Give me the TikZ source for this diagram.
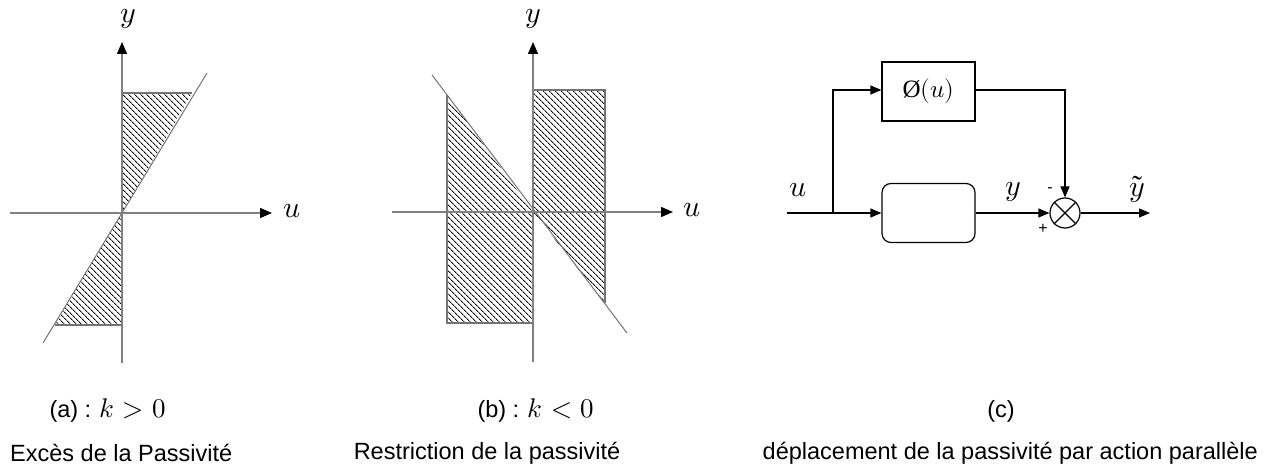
\documentclass[tikz,border=0pt]{standalone}
\usepackage{fontspec}
\setmainfont{Liberation Sans}
\newfontfamily\serifO{Liberation Serif}
\newfontfamily\lmm{Latin Modern Math}
\usetikzlibrary{arrows.meta,patterns.meta}
\newcommand\mvar[1]{{\fontsize{27}{30}\selectfont\lmm #1}}
\begin{document}
\begin{tikzpicture}[x=1pt,y=-1pt,
  axis/.style={draw=black!50,line width=1.4pt,-{Triangle[length=12pt,width=10pt,color=black]}},
  edge/.style={draw=black!55,line width=1.2pt},
  hatch/.style={pattern={Lines[angle=-45,distance=4pt,line width=0.9pt]},pattern color=black},
  wire/.style={draw=black,line width=1.2pt},
  arr/.style={wire,-{Triangle[length=11pt,width=9pt]}},
  mlab/.style={font=\fontsize{30}{34}\selectfont\lmm,inner sep=0pt},
  captxt/.style={font=\fontsize{23.5}{28}\selectfont,inner sep=0pt},
  blk/.style={draw=black,line width=1.2pt,minimum width=93pt,minimum height=59pt,inner sep=0pt},
  sgn/.style={font=\fontsize{16}{19}\selectfont,inner sep=0pt}]
\useasboundingbox (0,0) rectangle (1279,470);
% ---------- (a) ----------
\coordinate (oa) at (122,213);
\fill[hatch] (122,93) -- (192,93) -- (oa) -- cycle;
\fill[hatch] (oa) -- (122,325) -- (55,325) -- cycle;
\draw[edge] (122,93) -- (192,93);
\draw[edge] (55,325) -- (122,325);
\draw[edge,line width=1pt] (43,343) -- (207,73);
\draw[axis] (10,213) -- (272,213);
\draw[axis] (122,363) -- (122,42);
\node[mlab,anchor=base] (ya) at (128,23) {𝑦};
\node[mlab] (ua) at (292,211) {𝑢};
% ---------- (b) ----------
\coordinate (ob) at (533,212);
\fill[hatch] (533,90) -- (605,90) -- (605,303) -- (ob) -- cycle;
\fill[hatch] (447,95) -- (ob) -- (533,323) -- (447,323) -- cycle;
\draw[edge] (533,90) -- (605,90) -- (605,303);
\draw[edge] (447,95) -- (447,323) -- (533,323);
\draw[edge,line width=1pt] (432,75) -- (627,333);
\draw[axis] (392,212) -- (673,212);
\draw[axis] (533,362) -- (533,42);
\node[mlab,anchor=base] (yb) at (533,23) {𝑦};
\node[mlab] (ub) at (692,210) {𝑢};
% ---------- (c) ----------
\node[blk] (phi) at (928.5,91.5) {\fontsize{25}{28}\selectfont{\serifO Ø}{\lmm (𝑢)}};
\node[blk,rounded corners=9pt] (sys) at (928.5,213) {};
\node[draw=black,line width=1.2pt,circle,minimum size=30pt,inner sep=0pt] (sum) at (1065,213) {};
\draw[black,line width=1.1pt] (sum.north west) -- (sum.south east) (sum.north east) -- (sum.south west);
\coordinate (in) at (787,213);
\coordinate (br) at (833,213);
\coordinate (out) at (1150,213);
\draw[wire] (in) -- (br);
\draw[arr] (br) -- (sys.west);
\draw[arr] (br) -- (833,90) -- (phi.west |- 0,90);
\draw[arr] (phi.east |- 0,90) -- (1065,90) -- (sum.north);
\draw[arr] (sys.east) -- (sum.west);
\draw[arr] (sum.east) -- (out);
\node[mlab] (uc) at (798,190) {𝑢};
\node[mlab] (yc) at (1013,192) {𝑦};
\node[mlab] (yt) at (1137,190) {\ooalign{𝑦\cr\hidewidth\raisebox{-0.02em}{\serifO ˜}\hidewidth\cr}};
\node[sgn] (mi) at (1050,190) {-};
\node[sgn] (pl) at (1043,229) {+};
% ---------- captions ----------
\node[captxt] (ca) at (108,411) {(a) : \mvar{𝑘 > 0}};
\node[captxt] (cb) at (536,411) {(b) : \mvar{𝑘 < 0}};
\node[captxt] (cc) at (1001,411) {(c)};
\node[captxt,anchor=west] (da) at (10,453) {Excès de la Passivité};
\node[captxt] (db) at (487,453) {Restriction de la passivité};
\node[captxt,anchor=east] (dc) at (1258,453) {déplacement de la passivité par action parallèle};
\end{tikzpicture}
\end{document}
